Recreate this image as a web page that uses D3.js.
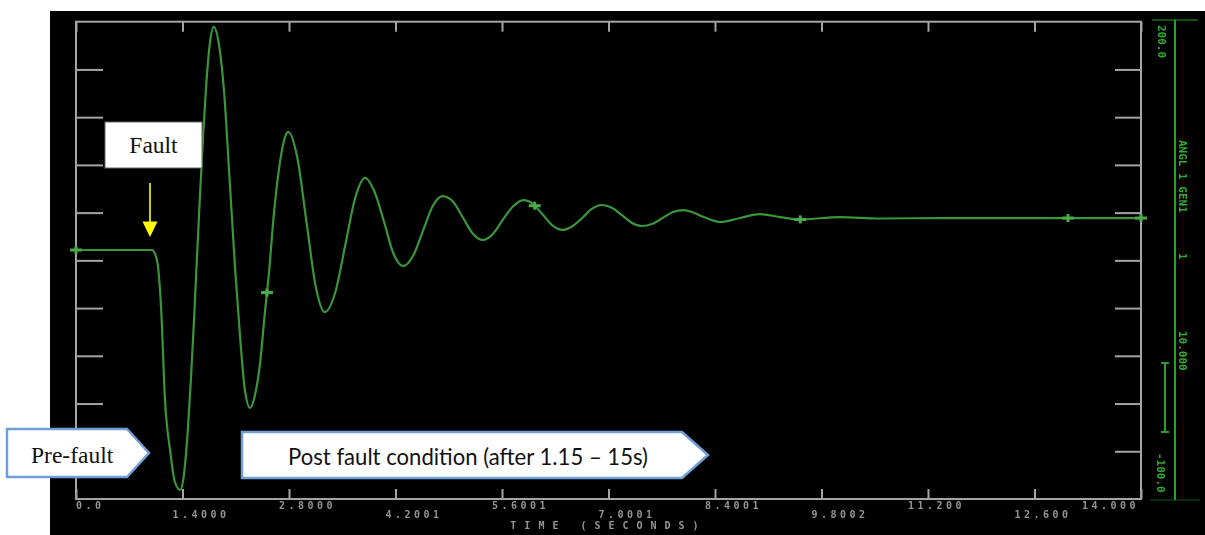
<!DOCTYPE html>
<html>
<head>
<meta charset="utf-8">
<script src="https://cdn.jsdelivr.net/npm/d3@7"></script>
<style>
body{margin:0;background:#fff;}
svg{display:block;}
</style>
</head>
<body>
<div id="canvas"></div>
<script>
// swing curve (time in s, angle in deg)
const timeS = [0.00,1.00,1.04,1.08,1.12,1.17,1.24,1.30,1.37,1.42,1.47,1.51,1.55,1.59,1.63,1.67,1.71,1.76,1.81,
  1.88,1.95,2.01,2.05,2.09,2.16,2.22,2.29,2.35,2.42,2.48,2.54,2.60,2.67,2.74,2.79,
  2.91,3.03,3.15,3.27,3.41,3.54,3.67,3.80,3.92,4.05,4.17,4.30,4.43,4.56,4.69,4.82,
  4.96,5.09,5.22,5.35,5.48,5.61,5.75,5.88,6.01,6.14,6.27,6.40,6.53,6.66,6.78,6.91,
  7.05,7.18,7.31,7.44,7.57,7.71,7.85,7.98,8.10,8.22,8.35,8.47,8.73,8.99,9.25,9.52,
  10.04,10.57,11.36,14.00]
const angleDeg = [56.5,56.5,54.0,45.2,18.8,-37.8,-70.5,-89.3,-94.3,-84.3,-56.6,-25.2,11.2,51.5,91.1,127.5,159.0,186.6,196.7,
  185.4,153.9,108.0,76.9,45.8,0.0,-31.5,-42.8,-35.3,-14.5,15.6,43.9,78.5,108.0,126.3,130.7,
  114.3,74.1,33.9,17.5,30.1,59.6,89.2,101.8,93.6,74.1,54.6,46.4,52.7,68.4,84.2,90.4,
  86.7,76.6,66.6,62.8,66.6,75.4,84.2,87.9,85.4,78.5,71.6,69.1,71.6,76.9,82.3,84.8,
  82.9,78.2,73.5,71.6,72.8,76.6,80.4,81.6,80.4,77.9,75.4,74.1,76.6,79.1,77.2,75.7,
  77.2,76.3,76.6,76.6]

const timeTicks = [0,1.4,2.8,4.2001,5.6001,7.0001,8.4001,9.8002,11.2,12.6,14.0]
const timeLabels = ["0.0","1.4000","2.8000","4.2001","5.6001","7.0001","8.4001","9.8002","11.200","12.600","14.000"]
const angleTicks = [-70,-40,-10,20,50,80,110,140,170]
const markerTimes = [0,2.51,6.03,9.52,13.04,14.0]
const sideTexts = ["200.0","ANGL 1 GEN1","1","10.000","-100.0"]

const width=1205
const height=535
const svg = d3.select("#canvas").append("svg").attr("width",width).attr("height",height)

const defs = svg.append("defs")
defs.append("filter").attr("id","soft").append("feGaussianBlur").attr("stdDeviation",0.6)

// black screen
svg.append("rect").attr("x",50).attr("y",11).attr("width",width-50).attr("height",height-11).attr("fill","#000")

const x = d3.scaleLinear().domain([0,14]).range([76,1141])
const y = d3.scaleLinear().domain([-100,200]).range([499,21.7])

const g = svg.append("g").attr("filter","url(#soft)")
const grey = "#a4a4a4"

g.append("rect")
  .attr("x",x(0)).attr("y",y(200))
  .attr("width",x(14)-x(0)).attr("height",y(-100)-y(200))
  .attr("fill","none").attr("stroke",grey).attr("stroke-width",2)

g.append("g").attr("transform",`translate(0,${y(-100)})`)
  .call(d3.axisTop(x).tickValues(timeTicks).tickSize(10).tickFormat(""))
g.append("g").attr("transform",`translate(0,${y(200)})`)
  .call(d3.axisBottom(x).tickValues(timeTicks).tickSize(10).tickFormat(""))
g.append("g").attr("transform",`translate(${x(0)},0)`)
  .call(d3.axisRight(y).tickValues(angleTicks).tickSize(27).tickFormat(""))
g.append("g").attr("transform",`translate(${x(14)},0)`)
  .call(d3.axisLeft(y).tickValues(angleTicks).tickSize(26).tickFormat(""))
g.selectAll(".domain").remove()
g.selectAll(".tick line").attr("stroke",grey).attr("stroke-width",2)

// tick labels, alternating rows
const last = timeLabels.length-1
g.selectAll(".tlab").data(timeLabels).enter().append("text")
  .attr("class","tlab")
  .attr("x",(d,i)=> i==last ? x(timeTicks[i])-2 : x(timeTicks[i])-(i==0 ? 0 : i>=8 ? 20 : 10))
  .attr("y",(d,i)=> i%2==0 ? 508.5 : 518)
  .attr("text-anchor",(d,i)=> i==last ? "end" : "start")
  .style("font-family","DejaVu Sans Mono").style("font-size","10px").style("font-weight","bold")
  .style("letter-spacing","3.5px").attr("fill","#959595")
  .text(d=>d)

g.append("text")
  .attr("x",(x(0)+x(14))/2).attr("y",529)
  .attr("text-anchor","middle")
  .style("font-family","DejaVu Sans Mono").style("font-size","10px").style("font-weight","bold")
  .style("letter-spacing","8px").attr("fill","#959595")
  .text("TIME (SECONDS)")

// curve
const pts = timeS.map((t,i)=>({t:t,v:angleDeg[i]}))
const line = d3.line().x(d=>x(d.t)).y(d=>y(d.v)).curve(d3.curveMonotoneX)
g.append("path").datum(pts)
  .attr("d",line).attr("fill","none")
  .attr("stroke","#3a953a").attr("stroke-width",2.2)

// curve markers
const bis = d3.bisector(d=>d).left
function valueAt(t){
  let i = bis(timeS,t)
  if(i<=0) return angleDeg[0]
  if(i>=timeS.length) return angleDeg[angleDeg.length-1]
  const f=(t-timeS[i-1])/(timeS[i]-timeS[i-1])
  return angleDeg[i-1]+f*(angleDeg[i]-angleDeg[i-1])
}
const mk = g.selectAll(".mk").data(markerTimes).enter().append("g")
  .attr("transform",d=>`translate(${x(d)},${y(valueAt(d))})`)
mk.append("rect").attr("x",-6).attr("y",-1.5).attr("width",12).attr("height",3).attr("fill","#4cab4c")
mk.append("rect").attr("x",-1.5).attr("y",-4).attr("width",3).attr("height",8).attr("fill","#4cab4c")

// right side channel info
const side = svg.append("g").attr("filter","url(#soft)")
side.append("line").attr("x1",1183).attr("x2",1183).attr("y1",40).attr("y2",500).attr("stroke","#3a0b0b").attr("stroke-width",1)
side.append("line").attr("x1",1152).attr("x2",1198).attr("y1",20).attr("y2",20).attr("stroke","#1d6a1d").attr("stroke-width",1.5)
side.append("line").attr("x1",1150).attr("x2",1200).attr("y1",500).attr("y2",500).attr("stroke","#1a551a").attr("stroke-width",1)
side.append("line").attr("x1",1175).attr("x2",1175).attr("y1",20).attr("y2",500).attr("stroke","#25a325").attr("stroke-width",2)
side.append("line").attr("x1",1165).attr("x2",1165).attr("y1",363).attr("y2",432).attr("stroke","#2c9e2c").attr("stroke-width",2)
side.append("line").attr("x1",1161).attr("x2",1169).attr("y1",363).attr("y2",363).attr("stroke","#2c9e2c").attr("stroke-width",2)
side.append("line").attr("x1",1161).attr("x2",1169).attr("y1",432).attr("y2",432).attr("stroke","#2c9e2c").attr("stroke-width",2)

const sidePos = [[1158,25],[1179,140],[1179,253],[1179,331],[1157,453]]
side.selectAll(".st").data(sideTexts).enter().append("text")
  .attr("transform",(d,i)=>`translate(${sidePos[i][0]},${sidePos[i][1]}) rotate(90)`)
  .style("font-family","DejaVu Sans Mono").style("font-size","11px").style("font-weight","bold")
  .attr("fill","#2fae2f")
  .text(d=>d)

// annotations
const ann = svg.append("g")
ann.append("rect").attr("x",105).attr("y",122).attr("width",97).attr("height",46)
  .attr("fill","#fff").attr("stroke","#666").attr("stroke-width",1)
ann.append("text").attr("x",153.5).attr("y",153).attr("text-anchor","middle")
  .style("font-family","Liberation Serif").style("font-size","23.5px").attr("fill","#111")
  .text("Fault")
ann.append("line").attr("x1",150).attr("x2",150).attr("y1",183).attr("y2",223)
  .attr("stroke","#ffff00").attr("stroke-width",1.6)
ann.append("path").attr("d","M142.5,221.5L157.5,221.5L150,237Z").attr("fill","#ffff00")

const boxBlue = "#6e9fd6"
ann.append("path").attr("d","M7,429L127,429L149,453L127,477L7,477Z")
  .attr("fill","#fff").attr("stroke",boxBlue).attr("stroke-width",2.5)
ann.append("text").attr("x",31).attr("y",463)
  .style("font-family","Liberation Serif").style("font-size","23.5px").attr("fill","#111")
  .text("Pre-fault")

ann.append("path").attr("d","M242,432L682,432L708,455L682,478L242,478Z")
  .attr("fill","#fff").attr("stroke",boxBlue).attr("stroke-width",2.5)
ann.append("text").attr("x",288).attr("y",465)
  .attr("textLength",360).attr("lengthAdjust","spacingAndGlyphs")
  .style("font-family","Lato").style("font-size","24px").attr("fill","#111")
  .text("Post fault condition (after 1.15 \u2013 15s)")
</script>
</body>
</html>
